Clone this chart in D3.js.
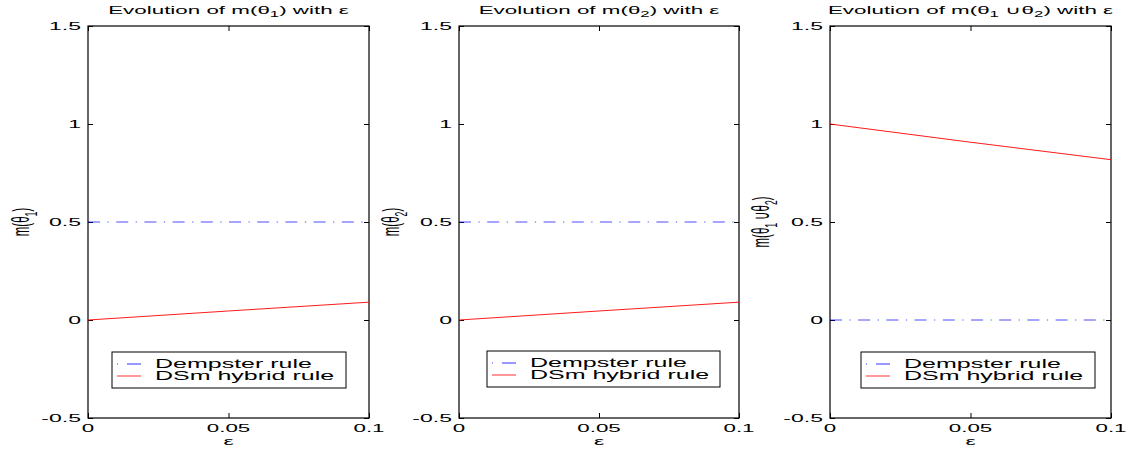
<!DOCTYPE html>
<html><head><meta charset="utf-8">
<script src="https://cdn.jsdelivr.net/npm/d3@7"></script>
<style>body{margin:0;background:#fff}svg{display:block}text{font-family:"Liberation Sans",Arial,sans-serif}</style>
</head><body>
<svg id="c" width="1126" height="452"></svg>
<script>
const eps = [0, 0.05, 0.1];
const dempsterT1 = [0.5, 0.5, 0.5];
const dsmT1 = [0, 0.046, 0.091];
const dempsterT2 = [0.5, 0.5, 0.5];
const dsmT2 = [0, 0.046, 0.091];
const dempsterU = [0, 0, 0];
const dsmU = [1, 0.907, 0.818];
const xTicks = [0, 0.05, 0.1];
const yTicks = [-0.5, 0, 0.5, 1, 1.5];
const xTickLabels = ["0", "0.05", "0.1"];
const yTickLabels = ["-0.5", "0", "0.5", "1", "1.5"];
const legendNames = ["Dempster rule", "DSm hybrid rule"];

const SX = 2; // horizontal stretch of the original figure's text

const panels = [
  {x0: 88, x1: 369, title: [["Evolution of m(θ",0],["1",1],[") with ε",0]], ylab: [["m(θ",0],["1",1],[")",0]], d: dempsterT1, s: dsmT1, lx: 112, lx1: 346, ly: 352, ylx: 29},
  {x0: 459, x1: 739, title: [["Evolution of m(θ",0],["2",1],[") with ε",0]], ylab: [["m(θ",0],["2",1],[")",0]], d: dempsterT2, s: dsmT2, lx: 487, lx1: 720, ly: 351, ylx: 399},
  {x0: 830, x1: 1111, title: [["Evolution of m(θ",0],["1",1],[" ∪θ",0],["2",1],[") with ε",0]], ylab: [["m(θ",0],["1",1],[" ∪θ",0],["2",1],[")",0]], d: dempsterU, s: dsmU, lx: 861, lx1: 1095, ly: 352, ylx: 769}
];

const svg = d3.select("#c");
const y = d3.scaleLinear().domain([-0.5, 1.5]).range([418, 26]);

function rich(sel, parts, fs) {
  let prevSub = false;
  parts.forEach(([t, sub]) => {
    const ts = sel.append("tspan").text(t);
    if (sub) ts.attr("font-size", fs * 0.75).attr("dy", fs * 0.35);
    else if (prevSub) ts.attr("dy", -fs * 0.35);
    prevSub = sub;
  });
}

function stext(g, x, yy, fs, anchor, extra) {
  return g.append("text")
    .attr("transform", `translate(${x},${yy}) scale(${SX},1)${extra || ""}`)
    .attr("text-anchor", anchor).attr("font-size", fs).attr("fill", "#000");
}

panels.forEach(p => {
  const x = d3.scaleLinear().domain([0, 0.1]).range([p.x0, p.x1]);
  const g = svg.append("g");
  g.append("rect").attr("x", p.x0).attr("y", y(1.5)).attr("width", p.x1 - p.x0).attr("height", y(-0.5) - y(1.5))
    .attr("fill", "none").attr("stroke", "#000").attr("stroke-width", 1.2);
  const axes = [
    [d3.axisBottom(x).tickValues(xTicks), `translate(0,${y(-0.5)})`],
    [d3.axisTop(x).tickValues(xTicks), `translate(0,${y(1.5)})`],
    [d3.axisLeft(y).tickValues(yTicks), `translate(${p.x0},0)`],
    [d3.axisRight(y).tickValues(yTicks), `translate(${p.x1},0)`]
  ];
  axes.forEach(([ax, tr]) => {
    const a = g.append("g").attr("transform", tr).call(ax.tickSize(-5).tickFormat(""));
    a.select(".domain").remove();
    a.selectAll("line").attr("stroke", "#000");
    a.selectAll("text").remove();
  });
  xTicks.forEach((v, i) => stext(g, x(v), 432, 11.2, "middle").text(xTickLabels[i]));
  yTicks.forEach((v, i) => stext(g, p.x0 - 7, y(v) + 4, 11.5, "end").text(yTickLabels[i]));
  const line = vals => d3.line().x((d, i) => x(eps[i])).y(d => y(d))(vals);
  g.append("path").attr("d", line(p.s)).attr("fill", "none").attr("stroke", "#ff0000").attr("stroke-width", 0.9);
  g.append("path").attr("d", line(p.d)).attr("fill", "none").attr("stroke", "#0000ff").attr("stroke-width", 1)
    .attr("stroke-dasharray", "12,7.5,1.2,7.5").attr("opacity", 0.7);
  rich(stext(g, (p.x0 + p.x1) / 2, 13.5, 11.2, "middle"), p.title, 11.2);
  stext(g, (p.x0 + p.x1) / 2, 445, 11.5, "middle").text("ε");
  rich(stext(g, p.ylx, 222, 11.5, "middle", " rotate(-90)"), p.ylab, 11.5);
  const lg = g.append("g");
  lg.append("rect").attr("x", p.lx).attr("y", p.ly).attr("width", p.lx1 - p.lx).attr("height", 36)
    .attr("fill", "#fff").attr("stroke", "#000").attr("stroke-width", 1);
  const cols = ["#0000ff", "#ff0000"];
  legendNames.forEach((n, i) => {
    const yy = p.ly + 12 + i * 12;
    lg.append("line").attr("x1", p.lx + 5).attr("x2", p.lx + 29).attr("y1", yy).attr("y2", yy)
      .attr("stroke", cols[i]).attr("stroke-width", 1)
      .attr("stroke-dasharray", i === 0 ? "1,9,14,0" : null).attr("opacity", 0.8);
    stext(lg, p.lx + 43, yy + 4, 12.5, "start").text(n);
  });
});
</script>
</body></html>
